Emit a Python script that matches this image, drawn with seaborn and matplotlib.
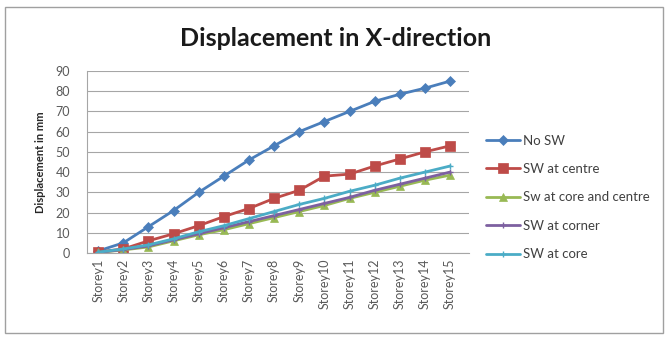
import matplotlib
matplotlib.use("Agg")
import matplotlib.pyplot as plt
import seaborn as sns
import pandas as pd

storeys = [f"Storey{i}" for i in range(1, 16)]

no_sw = [1, 5, 13, 21, 30, 38, 46, 53, 60, 65, 70, 75, 78.5, 81.5, 85]
sw_centre = [0.5, 2, 6, 9.5, 13.5, 18, 22, 27, 31, 38, 39, 43, 46.5, 50, 53]
sw_core_centre = [0.3, 1.5, 3, 6, 9, 11.5, 14.5, 17.5, 20.5, 23.5, 27, 30, 33, 36, 38.5]
sw_corner = [0.3, 1.7, 3.5, 6.5, 9.5, 12.5, 15.5, 18.5, 21.5, 24.5, 27.5, 31, 34, 37, 40]
sw_core = [0.4, 2, 4, 7, 10.5, 13.5, 17, 20.5, 24, 27, 30.5, 33.5, 37, 40, 43]

series_names = ["No SW", "SW at centre", "Sw at core and centre", "SW at corner", "SW at core"]
series_values = [no_sw, sw_centre, sw_core_centre, sw_corner, sw_core]
colors = ["#4A7EBB", "#BE4B48", "#98B954", "#7D60A0", "#4BACC6"]
markers = ["D", "s", "^", "+", "+"]
marker_sizes = [5, 7, 6, 4, 4]

rows = []
for name, vals in zip(series_names, series_values):
    for i, v in enumerate(vals):
        rows.append({"pos": i, "Storey": storeys[i], "Displacement": v, "Series": name})
df = pd.DataFrame(rows)

sns.set_style("white")
plt.rcParams["font.family"] = ["Lato", "DejaVu Sans"]

fig = plt.figure(figsize=(6.68, 3.38), dpi=100)
# chart frame
frame = plt.Rectangle((0.008, 0.015), 0.984, 0.965, transform=fig.transFigure,
                      fill=False, edgecolor="#A0A0A0", linewidth=1.0)
fig.patches.append(frame)

ax = fig.add_axes([0.130, 0.2515, 0.572, 0.5385])

for name, color, mk, ms in zip(series_names, colors, markers, marker_sizes):
    sub = df[df["Series"] == name]
    sns.lineplot(data=sub, x="pos", y="Displacement", ax=ax, color=color,
                 marker=mk, markersize=ms, linewidth=2, label=name,
                 markeredgecolor=color, markeredgewidth=1.0 if mk == "+" else 0.5)

ax.set_xlim(-0.45, 14.75)
ax.set_ylim(0, 90)
ax.set_yticks(range(0, 91, 10))
ax.set_xticks(range(15))
ax.set_xticklabels(storeys, rotation=90, fontsize=9, color="#595959")
ax.tick_params(axis="y", labelsize=9, labelcolor="#595959", length=0, pad=12)
ax.tick_params(axis="x", length=0, pad=4)
ax.grid(axis="y", color="#A6A6A6", linewidth=0.8)
ax.set_axisbelow(True)
for side in ("top", "right"):
    ax.spines[side].set_visible(False)
ax.spines["left"].set_color("#A6A6A6")
ax.spines["bottom"].set_color("#A6A6A6")
ax.set_xlabel("")
ax.set_ylabel("Displacement in mm", fontsize=8, fontweight="bold", labelpad=7)

fig.text(0.502, 0.885, "Displacement in X-direction", ha="center", va="center",
         fontsize=18, fontweight="bold", color="#1a1a1a")

leg = ax.legend(loc="upper left", bbox_to_anchor=(1.03, 0.68), frameon=False,
                fontsize=9.5, handlelength=2.6, handletextpad=0.2, labelspacing=1.25,
                borderaxespad=0)
for t in leg.get_texts():
    t.set_color("#404040")

fig.savefig("out.png", dpi=100)
